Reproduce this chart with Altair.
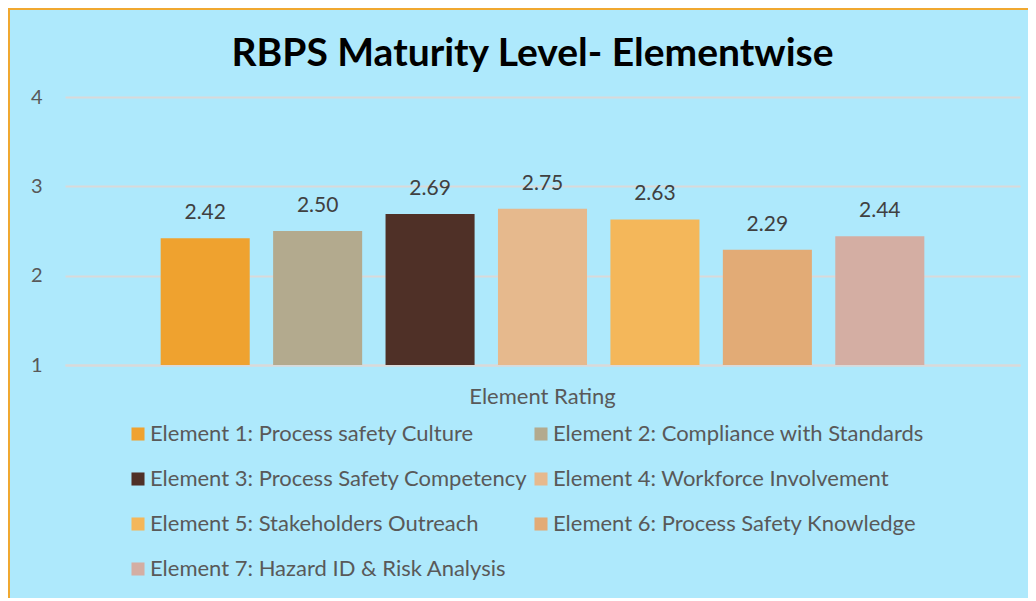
import altair as alt
import pandas as pd

elements = [
    "Element 1: Process safety Culture",
    "Element 2: Compliance with Standards",
    "Element 3: Process Safety Competency",
    "Element 4: Workforce Involvement",
    "Element 5: Stakeholders Outreach",
    "Element 6:  Process Safety Knowledge",
    "Element 7: Hazard ID & Risk Analysis",
]
values = [2.42, 2.50, 2.69, 2.75, 2.63, 2.29, 2.44]
colors = ["#EFA22F", "#B3AA8E", "#4F3027", "#E6B98D", "#F4B75A", "#E2AB76", "#D4AEA3"]
group = ["Element Rating"] * len(elements)

df = pd.DataFrame({"group": group, "element": elements, "value": values})

FONT = "Lato"
BG = "#AEE9FC"
W, H = 955, 268
PL, PT, PR, PB = 57, 89, 8, 233

x = alt.X("group:N", title=None,
          scale=alt.Scale(paddingInner=0, paddingOuter=0.1067),
          axis=alt.Axis(labelAngle=0, labelFontSize=22, labelColor="#595959", labelFont=FONT,
                        labelPadding=21, ticks=False, domainColor="#D9D9D9", domainWidth=2))
xo = alt.XOffset("element:N", sort=elements,
                 scale=alt.Scale(paddingInner=0.208, paddingOuter=0.104))
y = alt.Y("value:Q", title=None,
          scale=alt.Scale(domain=[1, 4], zero=False, nice=False),
          axis=alt.Axis(values=[1, 2, 3, 4], labelFontSize=20, labelColor="#595959", labelFont=FONT,
                        labelPadding=23, ticks=False, domain=False, gridColor="#D9D9D9",
                        gridWidth=2))

bars = alt.Chart(df).mark_bar().encode(
    x=x, xOffset=xo, y=y, y2=alt.datum(1),
    color=alt.Color("element:N", sort=elements,
                    scale=alt.Scale(domain=elements, range=colors),
                    legend=alt.Legend(title=None, orient="none", legendX=62, legendY=326,
                                      columns=2, direction="horizontal", symbolType="square",
                                      symbolSize=170, symbolStrokeWidth=0,
                                      labelFontSize=22, labelColor="#595959", labelFont=FONT,
                                      labelOffset=1, rowPadding=23, columnPadding=2,
                                      labelLimit=500)),
)

labels = alt.Chart(df).mark_text(baseline="bottom", dy=-15, fontSize=21, color="#404040",
                                 font=FONT).encode(
    x=x, xOffset=xo, y=y, text=alt.Text("value:Q", format=".2f"))

border_left = alt.Chart(df).mark_rule(color="#F0A830", strokeWidth=2).encode(
    x=alt.value(-PL + 1), y=alt.value(-PT), y2=alt.value(H + PB))
border_top = alt.Chart(df).mark_rule(color="#F0A830", strokeWidth=2).encode(
    x=alt.value(-PL), x2=alt.value(W + PR), y=alt.value(-PT + 1))

chart = alt.layer(bars, labels, border_left, border_top).properties(
    width=W, height=H,
    autosize=alt.AutoSizeParams(type="none"),
    padding={"left": PL, "top": PT, "right": PR, "bottom": PB},
    background=BG,
    title=alt.Title("RBPS Maturity Level- Elementwise", fontSize=39, font=FONT,
                    fontWeight="bold", color="#000000", anchor="middle",
                    baseline="alphabetic", offset=-98, dx=-10),
).configure_view(stroke=None)

chart.save("out.html", embed_options={"renderer": "svg", "actions": False})
